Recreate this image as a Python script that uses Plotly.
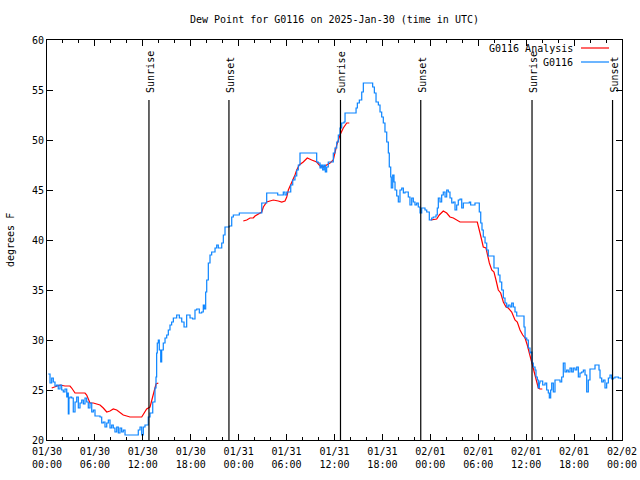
import pandas as pd
import plotly.graph_objects as go

BASE = pd.Timestamp("2025-01-30 00:00")

# hours since 2025-01-30 00:00 UTC and dew point (F)
obs_hours = [0.16, 0.38, 0.59, 0.79, 1.00, 1.21, 1.41, 1.63, 1.84, 2.04, 2.25, 2.47, 2.59, 2.67, 2.75, 2.88,
             3.09, 3.29, 3.51, 3.72, 3.92, 4.13, 4.35, 4.55, 4.76, 4.97, 5.17, 5.38, 5.60, 5.80, 6.01, 6.42,
             6.64, 6.85, 7.05, 7.26, 7.48, 7.68, 7.89, 8.10, 8.30, 8.51, 8.73, 8.93, 9.14, 9.35, 9.55, 9.77,
             11.02, 11.43, 11.65, 11.86, 12.06, 12.27, 12.48, 12.68, 12.90, 13.24, 13.52, 13.65, 13.73, 13.81,
             13.94, 14.06, 14.24, 14.36, 14.56, 14.78, 14.99, 15.19, 15.40, 15.61, 15.82, 16.24, 16.57, 16.87,
             17.16, 17.49, 17.91, 18.24, 18.53, 18.75, 19.07, 19.37, 19.57, 19.70, 19.87, 20.00, 20.20, 20.41,
             20.62, 21.04, 21.25, 21.45, 21.88, 22.08, 22.29, 22.83, 23.13, 23.33, 23.95, 24.08, 26.76, 26.89,
             27.30, 27.51, 28.76, 28.89, 29.39, 29.59, 29.80, 30.02, 30.30, 30.52, 30.77, 31.05, 31.27, 31.47,
             31.68, 33.68, 33.77, 33.97, 34.19, 34.35, 34.52, 34.69, 34.85, 35.02, 35.22, 35.65, 35.85, 36.06,
             36.28, 36.48, 36.69, 36.90, 37.19, 37.32, 38.57, 38.70, 38.86, 39.11, 39.41, 39.61, 40.45, 40.78,
             40.99, 41.20, 41.49, 41.70, 41.91, 42.11, 42.32, 42.54, 42.74, 42.86, 43.04, 43.11, 43.29, 43.45,
             43.58, 43.79, 43.99, 44.20, 44.42, 44.62, 44.83, 45.24, 45.45, 45.67, 45.87, 46.08, 46.29, 46.49,
             46.71, 46.92, 47.33, 47.55, 47.87, 48.17, 48.37, 48.71, 48.87, 49.00, 49.21, 49.42, 49.62, 49.84,
             50.05, 50.25, 50.46, 50.68, 50.88, 51.09, 51.30, 51.50, 51.72, 51.93, 52.13, 52.55, 52.88, 53.05,
             53.59, 53.88, 54.13, 54.31, 54.47, 54.63, 54.85, 55.06, 55.26, 55.89, 55.97, 56.39, 56.51, 56.72,
             56.94, 57.14, 57.35, 57.56, 57.76, 57.98, 58.19, 58.39, 58.60, 58.82, 59.57, 59.73, 59.86, 60.07,
             60.27, 60.48, 60.61, 60.73, 60.89, 61.11, 61.23, 61.40, 61.52, 61.65, 61.73, 61.95, 62.07, 62.36,
             62.57, 62.77, 62.90, 63.07, 63.20, 63.40, 63.61, 64.24, 64.45, 64.65, 64.86, 65.07, 65.27, 65.49,
             65.70, 65.90, 66.12, 66.33, 66.53, 66.74, 66.95, 67.16, 67.37, 67.58, 67.78, 67.99, 68.41, 68.62,
             68.91, 69.12, 69.25, 69.46, 69.66, 69.87, 70.08, 70.29, 70.50, 70.71, 70.91, 71.12, 71.54, 71.84]
obs_values = [26.6, 25.7, 26.2, 25.8, 25.4, 25.5, 25.1, 25.5, 25.0, 24.8, 25.1, 24.3, 24.7, 22.6, 24.2, 24.3,
              24.2, 22.8, 23.8, 24.3, 23.2, 23.7, 24.0, 23.6, 24.2, 23.8, 23.2, 23.7, 22.8, 23.0, 22.4, 22.4,
              22.3, 21.7, 21.8, 21.3, 21.7, 22.0, 21.2, 21.5, 21.2, 20.8, 21.3, 20.7, 21.2, 20.8, 21.0, 20.5,
              20.5, 21.0, 21.3, 20.5, 21.3, 21.5, 21.5, 22.3, 22.7, 23.8, 25.2, 26.3, 28.7, 29.7,
              30.0, 29.0, 27.8, 29.0, 29.7, 30.2, 30.5, 31.0, 31.5, 31.8, 32.2, 32.5, 32.2, 31.8,
              31.3, 32.5, 32.2, 32.1, 33.0, 33.1, 32.7, 32.8, 33.5, 33.1, 34.8, 36.0, 37.7, 38.5,
              38.8, 39.2, 39.5, 39.2, 39.7, 40.5, 41.3, 41.4, 42.3, 42.5, 42.5, 42.7, 42.7, 43.7,
              43.7, 44.7, 44.7, 44.5, 44.5, 44.8, 44.5, 44.8, 44.8, 45.5, 46.0, 46.4, 47.0, 47.5,
              48.7, 48.7, 47.8, 47.7, 47.2, 47.5, 47.0, 47.5, 46.8, 47.3, 47.8, 47.8, 48.7, 49.2,
              49.8, 50.5, 51.2, 51.7, 51.8, 52.7, 52.7, 53.2, 53.7, 54.0, 54.8, 55.7, 55.7, 55.3,
              54.7, 53.8, 53.5, 52.8, 52.3, 51.7, 50.8, 49.8, 48.7, 47.3, 46.3, 45.2, 46.5, 45.8,
              45.0, 44.4, 43.8, 45.0, 45.2, 44.7, 44.8, 44.3, 43.5, 44.2, 43.8, 43.5, 43.7, 43.3,
              42.7, 43.2, 43.0, 42.8, 42.0, 42.2, 42.3, 42.5, 43.2, 44.2, 43.8, 44.5, 44.8, 44.3,
              45.0, 44.8, 44.2, 43.7, 43.8, 43.0, 43.5, 44.0, 44.1, 43.2, 43.7, 43.7, 43.8, 43.5,
              43.7, 43.7, 42.8, 41.7, 41.0, 40.3, 39.7, 39.0, 38.4, 38.4, 37.2, 37.2, 36.5, 35.8,
              35.0, 34.2, 33.7, 33.3, 33.5, 33.3, 33.7, 33.3, 32.8, 32.4, 32.4, 31.3, 30.2, 30.0,
              29.2, 28.7, 28.8, 27.7, 27.3, 27.0, 26.3, 26.0, 25.2, 25.7, 25.9, 25.9, 25.5, 25.7,
              25.0, 24.7, 24.2, 25.0, 25.7, 24.8, 26.0, 25.8, 26.3, 27.7, 26.8, 27.0, 26.8, 27.2,
              26.8, 27.2, 27.0, 27.3, 26.3, 26.7, 26.8, 27.0, 26.5, 24.8, 26.0, 27.1, 27.1, 27.5,
              27.5, 27.0, 26.2, 25.8, 26.0, 25.2, 25.7, 26.2, 26.5, 26.1, 26.2, 26.3, 26.2, 26.1]

# analysis series (None = gap)
ana_hours = [0.59, 1.00, 1.63, 2.25, 2.88, 3.09, 3.51, 3.92, 4.76, 4.97, 5.38, 5.80, 6.22, 6.64, 7.05, 7.48,
             7.89, 8.30, 8.73, 9.14, 9.55, 9.98, 10.39, 11.86, 12.15, 12.48, 12.90, 13.11, 13.31, 13.52, 13.65,
             13.94, None,
             24.58, 25.01, 25.42, 25.83, 26.05, 26.46, 26.89, 27.09, 27.51, 27.92, 28.34, 28.96, 29.39, 29.80,
             30.02, 30.22, 30.64, 31.05, 31.27, 31.59, 32.09, 32.59, 33.15, 33.77, 34.19, 34.60, 35.02, 35.44,
             35.85, 36.06, 36.28, 36.69, 37.10, 37.53, 37.85, None,
             48.05, 48.50, 48.80, 49.12, 49.42, 49.62, 50.05, 50.46, 50.88, 51.30, 51.72, 53.88, 54.06, 54.22,
             54.43, 54.63, 54.97, 55.14, 55.39, 55.69, 55.97, 56.22, 56.51, 56.81, 57.14, 57.48, 57.76, 58.19,
             58.60, 58.89, 59.23, 59.57, 59.86, 60.14, 60.39, 60.57, 60.77, 60.98, 61.23, 61.40, 61.52, 61.73,
             62.02]
ana_values = [25.2, 25.3, 25.5, 25.4, 25.4, 25.2, 24.7, 24.7, 24.7, 24.5, 23.7, 23.7, 23.6, 23.5, 23.2, 22.8,
              22.9, 23.1, 23.0, 22.7, 22.5, 22.4, 22.3, 22.3, 22.7, 23.1, 23.3, 24.0, 24.7, 25.2, 25.6,
              25.7, None,
              41.9, 42.0, 42.2, 42.2, 42.4, 42.6, 42.8, 43.3, 43.8, 43.9, 44.0, 43.9, 43.8, 43.9,
              44.3, 45.0, 45.7, 46.5, 47.0, 47.5, 47.8, 48.2, 48.0, 47.8, 47.4, 47.3, 47.5, 47.7,
              48.0, 48.7, 49.5, 50.5, 51.2, 51.7, 51.7, None,
              42.0, 42.1, 42.1, 42.5, 42.8, 42.9, 42.7, 42.3, 42.2, 42.0, 41.8, 41.8, 41.3, 40.7,
              40.0, 39.3, 39.2, 38.5, 37.7, 37.0, 36.8, 36.0, 35.0, 34.7, 33.8, 33.3, 33.2, 32.8,
              32.0, 31.8, 31.0, 30.5, 30.2, 29.5, 28.7, 28.0, 27.5, 26.8, 26.2, 25.5, 25.2, 25.1,
              25.1]

sun_events = ["Sunrise", "Sunset", "Sunrise", "Sunset", "Sunrise", "Sunset"]
sun_times = ["2025-01-30 12:46", "2025-01-30 22:47", "2025-01-31 12:45",
             "2025-01-31 22:48", "2025-02-01 12:44", "2025-02-01 22:49"]

title_text = "Dew Point for G0116 on 2025-Jan-30 (time in UTC)"
y_title = "degrees F"
legend_names = ["G0116 Analysis", "G0116"]
COL_ANA = "#ff0000"
COL_OBS = "#0a84ff"
FONT = "DejaVu Sans Mono"
FS = 10


def to_dt(hours):
    return [None if h is None else BASE + pd.Timedelta(hours=h) for h in hours]


fig = go.Figure()
fig.add_trace(go.Scatter(x=to_dt(ana_hours), y=ana_values, mode="lines",
                         line=dict(color=COL_ANA, width=1.2), name=legend_names[0],
                         connectgaps=False, showlegend=False))
fig.add_trace(go.Scatter(x=to_dt(obs_hours), y=obs_values, mode="lines",
                         line=dict(color=COL_OBS, width=1.2, shape="hv"), name=legend_names[1],
                         showlegend=False))

for ev, t in zip(sun_events, sun_times):
    fig.add_shape(type="line", xref="x", yref="y", x0=t, x1=t, y0=20, y1=54,
                  line=dict(color="black", width=1.2))
    fig.add_annotation(x=t, y=54.5, xref="x", yref="y", text=ev, showarrow=False,
                       textangle=-90, xanchor="center", yanchor="bottom", xshift=1,
                       font=dict(family=FONT, size=FS, color="black"))

# manual legend (gnuplot style: text then sample)
leg_y = [0.98, 0.945]
leg_cols = [COL_ANA, COL_OBS]
for name, yy, col in zip(legend_names, leg_y, leg_cols):
    fig.add_annotation(x=0.9183, y=yy, xref="paper", yref="paper", text=name, showarrow=False,
                       xanchor="right", yanchor="middle",
                       font=dict(family=FONT, size=FS, color="black"))
    fig.add_shape(type="line", xref="paper", yref="paper", x0=0.9287, x1=0.9774, y0=yy, y1=yy,
                  line=dict(color=col, width=1.2))

# title and y-axis title as annotations (fixed positions like gnuplot)
fig.add_annotation(x=0.5, y=1, xref="paper", yref="paper", yshift=21, text=title_text,
                   showarrow=False, xanchor="center", yanchor="middle",
                   font=dict(family=FONT, size=FS, color="black"))
fig.add_annotation(x=0, y=0.5, xref="paper", yref="paper", xshift=-37, text=y_title,
                   showarrow=False, textangle=-90, xanchor="center", yanchor="middle",
                   font=dict(family=FONT, size=FS, color="black"))

fig.update_layout(
    width=640, height=480,
    margin=dict(l=47, r=18, t=40, b=40, autoexpand=False),
    plot_bgcolor="white", paper_bgcolor="white",
    font=dict(family=FONT, size=FS, color="black"),
    showlegend=False,
)
fig.update_xaxes(
    type="date", range=["2025-01-30 00:00", "2025-02-02 00:00"],
    dtick=6 * 3600 * 1000, tick0="2025-01-30 00:00", tickformat="%m/%d<br>%H:%M",
    ticks="inside", ticklen=6, tickcolor="black", showgrid=False, zeroline=False,
    showline=True, linecolor="black", linewidth=1, mirror="ticks", automargin=False,
    minor=dict(dtick=2 * 3600 * 1000, ticks="inside", ticklen=3, tickcolor="black", showgrid=False),
    tickfont=dict(family=FONT, size=FS), ticklabelstandoff=2,
)
fig.update_yaxes(
    range=[20, 60], dtick=5, ticks="inside", ticklen=6, tickcolor="black", automargin=False,
    showgrid=False, zeroline=False, showline=True, linecolor="black", linewidth=1, mirror="ticks",
    tickfont=dict(family=FONT, size=FS),
)

fig.write_html("out.html", config={"displayModeBar": False},
               post_script="document.body.style.margin='0px';document.body.style.overflow='hidden';")
